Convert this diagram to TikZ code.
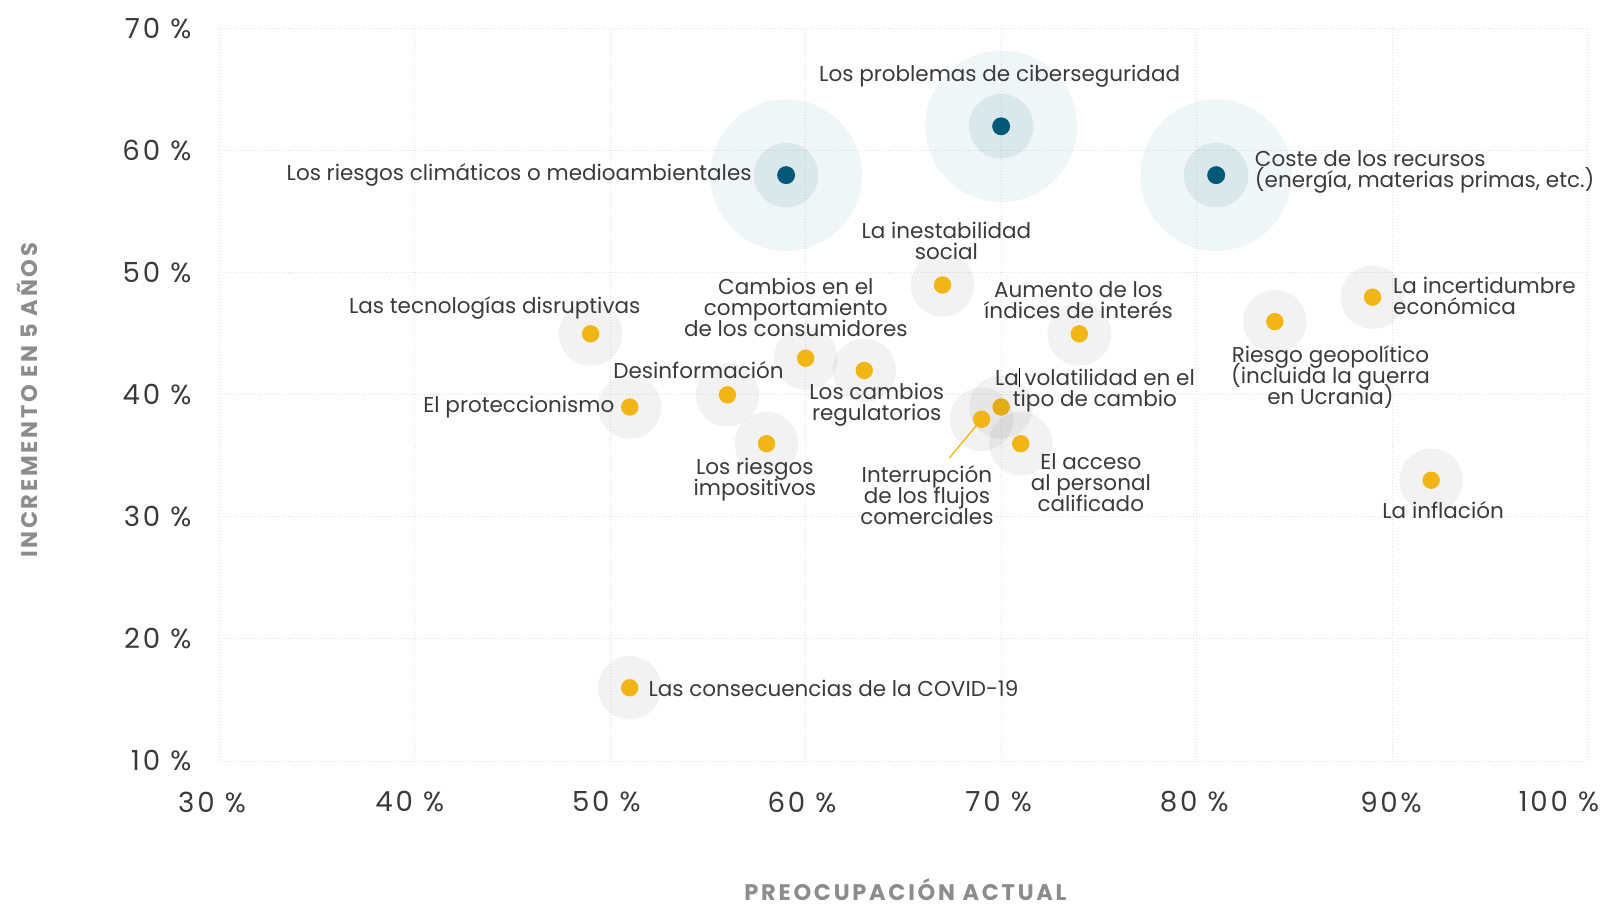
\documentclass[tikz,border=0pt]{standalone}
\usepackage{fontspec}
\setmainfont{Poppins}
\newfontfamily\tickfont[LetterSpace=10]{Poppins}
\newfontfamily\titlefont[LetterSpace=12]{Poppins}
\definecolor{riskteal}{RGB}{0,89,118}
\definecolor{riskyellow}{RGB}{241,182,22}
\definecolor{textgray}{RGB}{58,58,58}
\definecolor{titlegray}{RGB}{140,140,140}
\definecolor{gridgray}{RGB}{225,225,225}

\begin{document}
\begin{tikzpicture}[x=1pt, y=-1pt]
    % Define styles
    \tikzset{
        gridline/.style={gridgray, dotted, line width=0.9pt},
        ticklabel/.style={font=\tickfont\fontsize{27}{27}\selectfont, text=textgray, inner sep=0pt},
        axistitle/.style={font=\titlefont\bfseries\fontsize{22}{22}\selectfont, text=titlegray, inner sep=0pt},
        risklabel/.style={font={\fontsize{21}{20.5}\selectfont\lineskiplimit=-30pt}, text=textgray, align=center, inner sep=0pt},
        riskhalo/.style={circle, fill=black, fill opacity=0.05, minimum size=62pt, inner sep=0pt},
        riskdot/.style={circle, fill=riskyellow, minimum size=17pt, inner sep=0pt},
        keyouter/.style={circle, fill=riskteal, fill opacity=0.06, minimum size=148pt, inner sep=0pt},
        keyinner/.style={circle, fill=riskteal, fill opacity=0.09, minimum size=63pt, inner sep=0pt},
        keydot/.style={circle, fill=riskteal, minimum size=17.5pt, inner sep=0pt}
    }
    \useasboundingbox (0,0) rectangle (1568,885.5);

    % Draw grid
    \foreach \x in {30,40,...,100} {
        \draw[gridline] ({214+(\x-30)*19.086},28) -- ({214+(\x-30)*19.086},743);
    }
    \foreach \y in {10,20,...,70} {
        \draw[gridline] (214,{743-(\y-10)*11.917}) -- (1550,{743-(\y-10)*11.917});
    }

    % Draw tick labels
    \foreach \y in {10,20,...,70} {
        \node[ticklabel, anchor=east] (ylab\y) at (187,{743-(\y-10)*11.917}) {\y\ \%};
    }
    \foreach \x/\t in {207/30 \%, 400/40 \%, 592/50 \%, 783/60 \%, 975/70 \%, 1166/80 \%, 1358/90\%, 1522/100 \%} {
        \node[ticklabel] (xlab\x) at (\x,783) {\t};
    }

    % Axis titles
    \node[axistitle] (xtitle) at (884,869) {PREOCUPACIÓN ACTUAL};
    \node[axistitle, rotate=90] (ytitle) at (27,391) {INCREMENTO EN 5 AÑOS};

    % Draw the three main risks
    \foreach \n/\x/\y in {clima/59/58, ciber/70/62, coste/81/58} {
        \coordinate (p\n) at ({214+(\x-30)*19.086},{743-(\y-10)*11.917});
        \node[keyouter] at (p\n) {};
        \node[keyinner] at (p\n) {};
        \node[keydot] (\n) at (p\n) {};
    }

    % Draw the other risks
    \foreach \n/\x/\y in {tecno/49/45, protec/51/39, desinfo/56/40, consum/60/43, regul/63/42,
        impos/58/36, social/67/49, interes/74/45, volat/70/39, flujos/69/38, acceso/71/36,
        geopol/84/46, incert/89/48, inflac/92/33, covid/51/16} {
        \coordinate (p\n) at ({214+(\x-30)*19.086},{743-(\y-10)*11.917});
        \node[riskhalo] at (p\n) {};
        \node[riskdot] (\n) at (p\n) {};
    }

    % Leader line for the trade flows
    \coordinate (flujosend) at (927,447);
    \draw[riskyellow, line width=1.3pt] (flujos) -- (flujosend);
    \draw[black, line width=0.8pt] (995,359) -- (995,378);

    % Labels
    \node[risklabel] (lciber) at (976,74) {Los problemas de ciberseguridad};
    \node[risklabel, anchor=east] (lclima) at (734,171) {Los riesgos climáticos o medioambientales};
    \node[risklabel, anchor=west, align=left] (lcoste) at (1225,168) {Coste de los recursos\\(energía, materias primas, etc.)};
    \node[risklabel] (lsocial) at (924,235) {La inestabilidad\\social};
    \node[risklabel] (lconsum) at (777,300) {Cambios en el\\comportamiento\\de los consumidores};
    \node[risklabel] (linteres) at (1053,293) {Aumento de los\\índices de interés};
    \node[risklabel] (ltecno) at (483,301) {Las tecnologías disruptivas};
    \node[risklabel] (ldesinfo) at (682,361) {Desinformación};
    \node[risklabel, anchor=east] (lprotec) at (600,397) {El proteccionismo};
    \node[risklabel] (lregul) at (856,395) {Los cambios\\regulatorios};
    \node[risklabel] (lvolat) at (1069,381) {La volatilidad en el\\tipo de cambio};
    \node[risklabel] (limpos) at (737,468) {Los riesgos\\impositivos};
    \node[risklabel] (lflujos) at (905,483) {Interrupción\\de los flujos\\comerciales};
    \node[risklabel] (lacceso) at (1065,471) {El acceso\\al personal\\calificado};
    \node[risklabel] (lgeopol) at (1299,368) {Riesgo geopolítico\\(incluida la guerra\\en Ucrania)};
    \node[risklabel, anchor=west, align=left] (lincert) at (1360,289) {La incertidumbre\\económica};
    \node[risklabel] (linflac) at (1409,498) {La inflación};
    \node[risklabel, anchor=west] (lcovid) at (633,672) {Las consecuencias de la COVID-19};
\end{tikzpicture}
\end{document}
